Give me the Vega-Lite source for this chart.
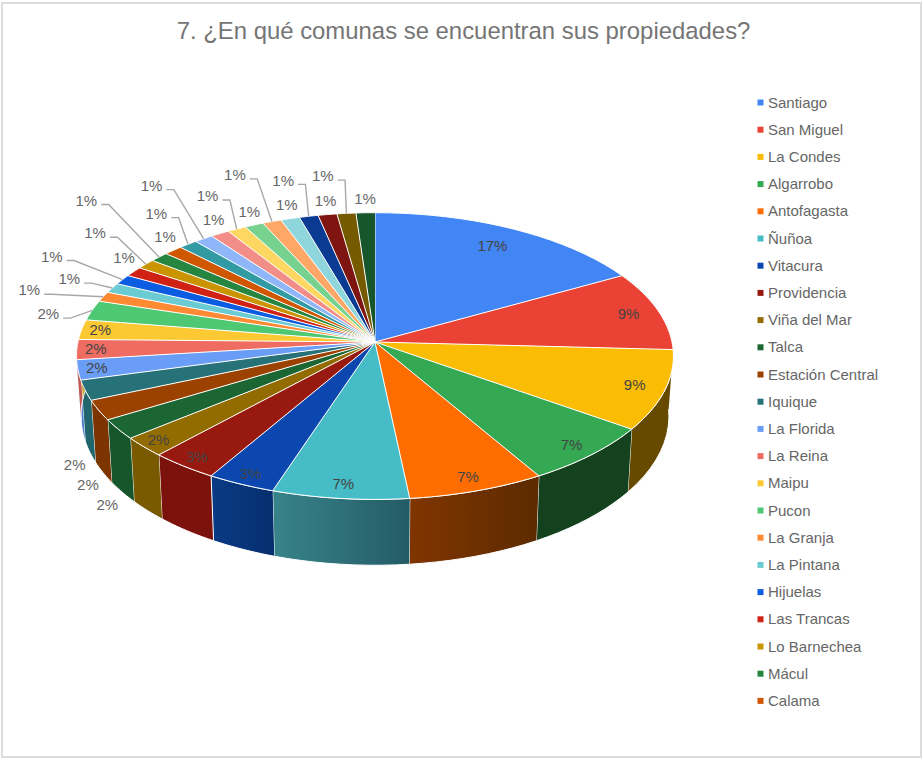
{
  "$schema": "https://vega.github.io/schema/vega-lite/v6.json",
  "width": 919,
  "height": 754,
  "autosize": "none",
  "padding": {"left": 2, "right": 2, "top": 3, "bottom": 3},
  "background": "white",
  "view": {"stroke": "#dcdcdc", "strokeWidth": 2},
  "title": {
    "text": "7. ¿En qué comunas se encuentran sus propiedades?",
    "anchor": "middle",
    "font": "Liberation Sans",
    "fontSize": 23.9,
    "fontWeight": "normal",
    "color": "#757575",
    "offset": -41,
    "dx": 2
  },
  "data": {
    "values": [
      {"n": 1, "comuna": "Santiago", "count": 15, "ring": 0},
      {"n": 2, "comuna": "San Miguel", "count": 8, "ring": 0},
      {"n": 3, "comuna": "La Condes", "count": 8, "ring": 0},
      {"n": 4, "comuna": "Algarrobo", "count": 6, "ring": 0},
      {"n": 5, "comuna": "Antofagasta", "count": 6, "ring": 0},
      {"n": 6, "comuna": "Ñuñoa", "count": 6, "ring": 0},
      {"n": 7, "comuna": "Vitacura", "count": 3, "ring": 0},
      {"n": 8, "comuna": "Providencia", "count": 3, "ring": 0},
      {"n": 9, "comuna": "Viña del Mar", "count": 2, "ring": 0},
      {"n": 10, "comuna": "Talca", "count": 2, "ring": 4},
      {"n": 11, "comuna": "Estación Central", "count": 2, "ring": 4},
      {"n": 12, "comuna": "Iquique", "count": 2, "ring": 4},
      {"n": 13, "comuna": "La Florida", "count": 2, "ring": 0},
      {"n": 14, "comuna": "La Reina", "count": 2, "ring": 0},
      {"n": 15, "comuna": "Maipu", "count": 2, "ring": 0},
      {"n": 16, "comuna": "Pucon", "count": 2, "ring": 2},
      {"n": 17, "comuna": "La Granja", "count": 1, "ring": 5},
      {"n": 18, "comuna": "La Pintana", "count": 1, "ring": 2},
      {"n": 19, "comuna": "Hijuelas", "count": 1, "ring": 5},
      {"n": 20, "comuna": "Las Trancas", "count": 1, "ring": 1},
      {"n": 21, "comuna": "Lo Barnechea", "count": 1, "ring": 3},
      {"n": 22, "comuna": "Mácul", "count": 1, "ring": 6},
      {"n": 23, "comuna": "Calama", "count": 1, "ring": 1},
      {"n": 24, "comuna": "Comuna 24", "count": 1, "ring": 2},
      {"n": 25, "comuna": "Comuna 25", "count": 1, "ring": 5},
      {"n": 26, "comuna": "Comuna 26", "count": 1, "ring": 1},
      {"n": 27, "comuna": "Comuna 27", "count": 1, "ring": 2},
      {"n": 28, "comuna": "Comuna 28", "count": 1, "ring": 1},
      {"n": 29, "comuna": "Comuna 29", "count": 1, "ring": 3},
      {"n": 30, "comuna": "Comuna 30", "count": 1, "ring": 1},
      {"n": 31, "comuna": "Comuna 31", "count": 1, "ring": 2},
      {"n": 32, "comuna": "Comuna 32", "count": 1, "ring": 1},
      {"n": 33, "comuna": "Comuna 33", "count": 1, "ring": 2},
      {"n": 34, "comuna": "Comuna 34", "count": 1, "ring": 1}
    ]
  },
  "transform": [
    {"stack": "count", "groupby": [], "sort": [{"field": "n", "order": "ascending"}], "offset": "normalize", "as": ["c0", "c1"]},
    {"calculate": "datum.c1 - datum.c0", "as": "share"}
  ],
  "encoding": {
    "x": {"field": "x", "type": "quantitative", "axis": null, "scale": {"domain": [-1.2559, 1.8384], "nice": false, "zero": false}},
    "y": {"field": "y", "type": "quantitative", "axis": null, "scale": {"domain": [-1.1414, 1.3973], "nice": false, "zero": false, "reverse": true}}
  },
  "layer": [
    {
      "description": "Outer wall of the tilted pie: upper rim forward, lower rim backward",
      "transform": [
        {"filter": "datum.c1 > 0.25 && datum.c0 < 0.76 && datum.comuna != 'Antofagasta' && datum.comuna != 'Ñuñoa' && datum.comuna != 'Vitacura'"},
        {"calculate": "[0,0.1,0.2,0.3,0.4,0.5,0.6,0.7,0.8,0.9,1,2,2.1,2.2,2.3,2.4,2.5,2.6,2.7,2.8,2.9,3]", "as": "s"},
        {"flatten": ["s"]},
        {"calculate": "2 * PI * (datum.c0 + datum.share * (datum.s <= 1 ? datum.s : 3 - datum.s))", "as": "a"},
        {"calculate": "1 + 0.098 * cos(datum.a)", "as": "w"},
        {"calculate": "sin(datum.a) / datum.w * (datum.s >= 2 ? 0.985 : 1)", "as": "x"},
        {"calculate": "-0.478 * cos(datum.a) / datum.w + (datum.s >= 2 ? 0.2 / datum.w : 0)", "as": "y"}
      ],
      "mark": {"type": "line", "stroke": "white", "strokeWidth": 1, "interpolate": "linear"},
      "encoding": {
        "order": {"field": "s", "type": "quantitative"},
        "fill": {
          "field": "comuna",
          "type": "nominal",
          "legend": null,
          "scale": {
            "domain": ["San Miguel", "La Condes", "Algarrobo", "Providencia", "Viña del Mar", "Talca", "Estación Central", "Iquique", "La Florida", "La Reina", "Maipu", "Pucon"],
            "range": ["#8f2a20", "#654a00", "#14421e", "#7b120b", "#7a5a00", "#17562a", "#7c3400", "#21666c", "#4f7fd0", "#c05a52", "#c9a02a", "#3fa058"]
          }
        }
      }
    },
    {
      "description": "Wall of Antofagasta, shaded from left to right",
      "transform": [
        {"filter": "datum.comuna == 'Antofagasta'"},
        {"calculate": "[0,0.1,0.2,0.3,0.4,0.5,0.6,0.7,0.8,0.9,1,2,2.1,2.2,2.3,2.4,2.5,2.6,2.7,2.8,2.9,3]", "as": "s"},
        {"flatten": ["s"]},
        {"calculate": "2 * PI * (datum.c0 + datum.share * (datum.s <= 1 ? datum.s : 3 - datum.s))", "as": "a"},
        {"calculate": "1 + 0.098 * cos(datum.a)", "as": "w"},
        {"calculate": "sin(datum.a) / datum.w * (datum.s >= 2 ? 0.985 : 1)", "as": "x"},
        {"calculate": "-0.478 * cos(datum.a) / datum.w + (datum.s >= 2 ? 0.2 / datum.w : 0)", "as": "y"}
      ],
      "mark": {"type": "line", "stroke": "white", "strokeWidth": 1, "fill": {"gradient": "linear", "x1": 0, "x2": 1, "y1": 0, "y2": 0, "stops": [{"offset": 0, "color": "#803500"}, {"offset": 1, "color": "#5c2b00"}]}},
      "encoding": {"order": {"field": "s", "type": "quantitative"}}
    },
    {
      "description": "Wall of Ñuñoa, shaded from left to right",
      "transform": [
        {"filter": "datum.comuna == 'Ñuñoa'"},
        {"calculate": "[0,0.1,0.2,0.3,0.4,0.5,0.6,0.7,0.8,0.9,1,2,2.1,2.2,2.3,2.4,2.5,2.6,2.7,2.8,2.9,3]", "as": "s"},
        {"flatten": ["s"]},
        {"calculate": "2 * PI * (datum.c0 + datum.share * (datum.s <= 1 ? datum.s : 3 - datum.s))", "as": "a"},
        {"calculate": "1 + 0.098 * cos(datum.a)", "as": "w"},
        {"calculate": "sin(datum.a) / datum.w * (datum.s >= 2 ? 0.985 : 1)", "as": "x"},
        {"calculate": "-0.478 * cos(datum.a) / datum.w + (datum.s >= 2 ? 0.2 / datum.w : 0)", "as": "y"}
      ],
      "mark": {"type": "line", "stroke": "white", "strokeWidth": 1, "fill": {"gradient": "linear", "x1": 0, "x2": 1, "y1": 0, "y2": 0, "stops": [{"offset": 0, "color": "#38838a"}, {"offset": 1, "color": "#245c66"}]}},
      "encoding": {"order": {"field": "s", "type": "quantitative"}}
    },
    {
      "description": "Wall of Vitacura, shaded from left to right",
      "transform": [
        {"filter": "datum.comuna == 'Vitacura'"},
        {"calculate": "[0,0.1,0.2,0.3,0.4,0.5,0.6,0.7,0.8,0.9,1,2,2.1,2.2,2.3,2.4,2.5,2.6,2.7,2.8,2.9,3]", "as": "s"},
        {"flatten": ["s"]},
        {"calculate": "2 * PI * (datum.c0 + datum.share * (datum.s <= 1 ? datum.s : 3 - datum.s))", "as": "a"},
        {"calculate": "1 + 0.098 * cos(datum.a)", "as": "w"},
        {"calculate": "sin(datum.a) / datum.w * (datum.s >= 2 ? 0.985 : 1)", "as": "x"},
        {"calculate": "-0.478 * cos(datum.a) / datum.w + (datum.s >= 2 ? 0.2 / datum.w : 0)", "as": "y"}
      ],
      "mark": {"type": "line", "stroke": "white", "strokeWidth": 1, "fill": {"gradient": "linear", "x1": 0, "x2": 1, "y1": 0, "y2": 0, "stops": [{"offset": 0, "color": "#0a3a85"}, {"offset": 1, "color": "#062f6e"}]}},
      "encoding": {"order": {"field": "s", "type": "quantitative"}}
    },
    {
      "description": "Top face wedges, each running from the hub around its rim arc",
      "transform": [
        {"calculate": "[-1,0,0.05,0.1,0.15,0.2,0.25,0.3,0.35,0.4,0.45,0.5,0.55,0.6,0.65,0.7,0.75,0.8,0.85,0.9,0.95,1]", "as": "s"},
        {"flatten": ["s"]},
        {"calculate": "2 * PI * (datum.c0 + datum.share * max(datum.s, 0))", "as": "a"},
        {"calculate": "1 + 0.098 * cos(datum.a)", "as": "w"},
        {"calculate": "datum.s < 0 ? 0 : sin(datum.a) / datum.w", "as": "x"},
        {"calculate": "datum.s < 0 ? 0 : -0.478 * cos(datum.a) / datum.w", "as": "y"}
      ],
      "mark": {"type": "line", "stroke": "white", "strokeWidth": 1, "interpolate": "linear"},
      "encoding": {
        "order": {"field": "s", "type": "quantitative"},
        "fill": {
          "field": "comuna",
          "type": "nominal",
          "scale": {
            "domain": ["Santiago", "San Miguel", "La Condes", "Algarrobo", "Antofagasta", "Ñuñoa", "Vitacura", "Providencia", "Viña del Mar", "Talca", "Estación Central", "Iquique", "La Florida", "La Reina", "Maipu", "Pucon", "La Granja", "La Pintana", "Hijuelas", "Las Trancas", "Lo Barnechea", "Mácul", "Calama", "Comuna 24", "Comuna 25", "Comuna 26", "Comuna 27", "Comuna 28", "Comuna 29", "Comuna 30", "Comuna 31", "Comuna 32", "Comuna 33", "Comuna 34"],
            "range": ["#4285F4", "#EA4335", "#FBBC04", "#34A853", "#FF6D01", "#46BDC6", "#0B47AE", "#98190F", "#936C00", "#1C6633", "#9C4200", "#277278", "#6A9DF6", "#EE6C62", "#FCC933", "#4EC872", "#FF8A34", "#6BCBD2", "#0B5CE0", "#CF2214", "#C99400", "#26863F", "#CF5700", "#319AA3", "#8EB6F8", "#F28E87", "#FDD762", "#76D28E", "#FFA767", "#8ED6DC", "#0A3A92", "#7E1510", "#755A00", "#17552A"]
          },
          "legend": {
            "orient": "none",
            "legendX": 751,
            "legendY": 92,
            "title": null,
            "values": ["Santiago", "San Miguel", "La Condes", "Algarrobo", "Antofagasta", "Ñuñoa", "Vitacura", "Providencia", "Viña del Mar", "Talca", "Estación Central", "Iquique", "La Florida", "La Reina", "Maipu", "Pucon", "La Granja", "La Pintana", "Hijuelas", "Las Trancas", "Lo Barnechea", "Mácul", "Calama"],
            "symbolType": "square",
            "symbolSize": 36,
            "symbolStrokeWidth": 0,
            "labelFont": "Liberation Sans",
            "labelFontSize": 15,
            "labelColor": "#666666",
            "labelLimit": 200,
            "labelOffset": 0,
            "rowPadding": 11.2
          }
        }
      }
    },
    {
      "description": "Leader lines from the rim to the labels placed outside it",
      "transform": [
        {"filter": "datum.ring == 2 || datum.ring == 3 || datum.ring >= 5"},
        {"calculate": "2 * PI * (datum.c0 + datum.c1) / 2", "as": "a"},
        {"calculate": "1 + 0.098 * cos(datum.a)", "as": "w"},
        {"calculate": "sin(datum.a) / datum.w", "as": "rimX"},
        {"calculate": "-0.478 * cos(datum.a) / datum.w", "as": "rimY"},
        {"calculate": "datum.ring == 2 ? 0.148 : datum.ring == 3 ? 0.2 : datum.ring == 5 ? 0.25 : 0.31", "as": "reach"},
        {"calculate": "datum.a - 0.63 * abs(datum.a - 5.445)", "as": "aim"},
        {"calculate": "datum.rimX + datum.reach * sin(datum.aim)", "as": "labelX"},
        {"calculate": "datum.rimY - datum.reach * cos(datum.aim)", "as": "labelY"},
        {"calculate": "[0,1,2]", "as": "k"},
        {"flatten": ["k"]},
        {"calculate": "datum.k == 0 ? datum.rimX : datum.k == 1 ? datum.labelX + 0.075 : datum.labelX + 0.05", "as": "x"},
        {"calculate": "datum.k == 0 ? datum.rimY : datum.labelY + 0.013", "as": "y"}
      ],
      "mark": {"type": "line", "stroke": "#a8a8a8", "strokeWidth": 1.4},
      "encoding": {
        "detail": {"field": "comuna", "type": "nominal"},
        "order": {"field": "k", "type": "quantitative"}
      }
    },
    {
      "description": "Percentage labels inside, beside or below the pie",
      "transform": [
        {"calculate": "2 * PI * (datum.c0 + datum.c1) / 2", "as": "a"},
        {"calculate": "1 + 0.098 * cos(datum.a)", "as": "w"},
        {"calculate": "sin(datum.a) / datum.w", "as": "rimX"},
        {"calculate": "-0.478 * cos(datum.a) / datum.w", "as": "rimY"},
        {"calculate": "datum.ring == 2 ? 0.148 : datum.ring == 3 ? 0.2 : datum.ring == 5 ? 0.25 : 0.31", "as": "reach"},
        {"calculate": "datum.a - 0.63 * abs(datum.a - 5.445)", "as": "aim"},
        {"calculate": "0.95 - datum.share * 0.6", "as": "inset"},
        {"calculate": "datum.ring == 0 ? datum.inset * datum.rimX : datum.ring == 1 ? 1.04 * datum.rimX : datum.ring == 4 ? 0.985 * datum.rimX - 0.05 : datum.rimX + datum.reach * sin(datum.aim)", "as": "x"},
        {"calculate": "datum.ring == 0 ? datum.inset * datum.rimY : datum.ring == 1 ? datum.rimY - 0.045 : datum.ring == 4 ? datum.rimY + 0.2 / datum.w + 0.044 : datum.rimY - datum.reach * cos(datum.aim)", "as": "y"}
      ],
      "mark": {"type": "text", "font": "Liberation Sans", "fontSize": 15, "align": "center", "baseline": "middle"},
      "encoding": {
        "text": {"field": "share", "type": "quantitative", "format": ".0%"},
        "color": {"condition": {"test": "datum.ring == 0", "value": "#444444"}, "value": "#666666"}
      }
    }
  ],
  "resolve": {"scale": {"fill": "independent"}}
}
